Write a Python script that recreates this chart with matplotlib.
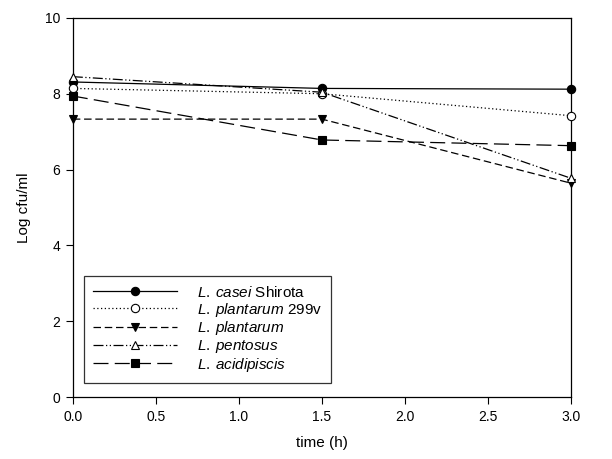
import matplotlib
matplotlib.use('Agg')
import matplotlib.pyplot as plt

plt.rcParams['font.family'] = ['Liberation Sans', 'DejaVu Sans']
plt.rcParams['mathtext.fontset'] = 'custom'
plt.rcParams['mathtext.rm'] = 'Liberation Sans'
plt.rcParams['mathtext.it'] = 'Liberation Sans:italic'

time = [0.0, 1.5, 3.0]
casei = [8.31, 8.14, 8.12]
plant299v = [8.14, 8.00, 7.42]
plantarum = [7.33, 7.33, 5.64]
pentosus = [8.45, 8.04, 5.77]
acidipiscis = [7.94, 6.78, 6.63]

labels = [r'$\it{L.\:casei}$ Shirota', r'$\it{L.\:plantarum}$ 299v',
          r'$\it{L.\:plantarum}$', r'$\it{L.\:pentosus}$', r'$\it{L.\:acidipiscis}$']
series = [casei, plant299v, plantarum, pentosus, acidipiscis]
markers = ['o', 'o', 'v', '^', 's']
faces = ['black', 'white', 'black', 'white', 'black']
styles = ['-', (0, (1, 2)), (0, (6, 3)), (0, (8, 2, 1, 2, 1, 2)), (0, (12, 5))]

fig = plt.figure(figsize=(6.12, 4.59), dpi=100)
ax = fig.add_axes([0.119, 0.135, 0.814, 0.826])

for y, lab, m, fc, ls in zip(series, labels, markers, faces, styles):
    ax.plot(time, y, color='black', linestyle=ls, linewidth=0.9, marker=m,
            markersize=6, markerfacecolor=fc, markeredgecolor='black',
            markeredgewidth=0.8, label=lab, clip_on=False, zorder=3)

ax.set_xlim(0, 3)
ax.set_ylim(0, 10)
ax.set_xticks([0, 0.5, 1.0, 1.5, 2.0, 2.5, 3.0])
ax.set_xticklabels(['0.0', '0.5', '1.0', '1.5', '2.0', '2.5', '3.0'])
ax.set_yticks([0, 2, 4, 6, 8, 10])
ax.tick_params(direction='out', length=5, width=0.8, labelsize=10, pad=4)
ax.set_xlabel('time (h)', fontsize=11, labelpad=9)
ax.set_ylabel('Log cfu/ml', fontsize=11, labelpad=10)
for s in ax.spines.values():
    s.set_linewidth(0.9)

leg = ax.legend(loc='lower left', bbox_to_anchor=(0.022, 0.037), borderaxespad=0,
                fontsize=11, frameon=True, fancybox=False, edgecolor='black',
                handlelength=5.5, borderpad=0.6, labelspacing=0.05, handletextpad=1.3)
leg.get_frame().set_linewidth(0.9)

fig.savefig('out.png', dpi=100)
